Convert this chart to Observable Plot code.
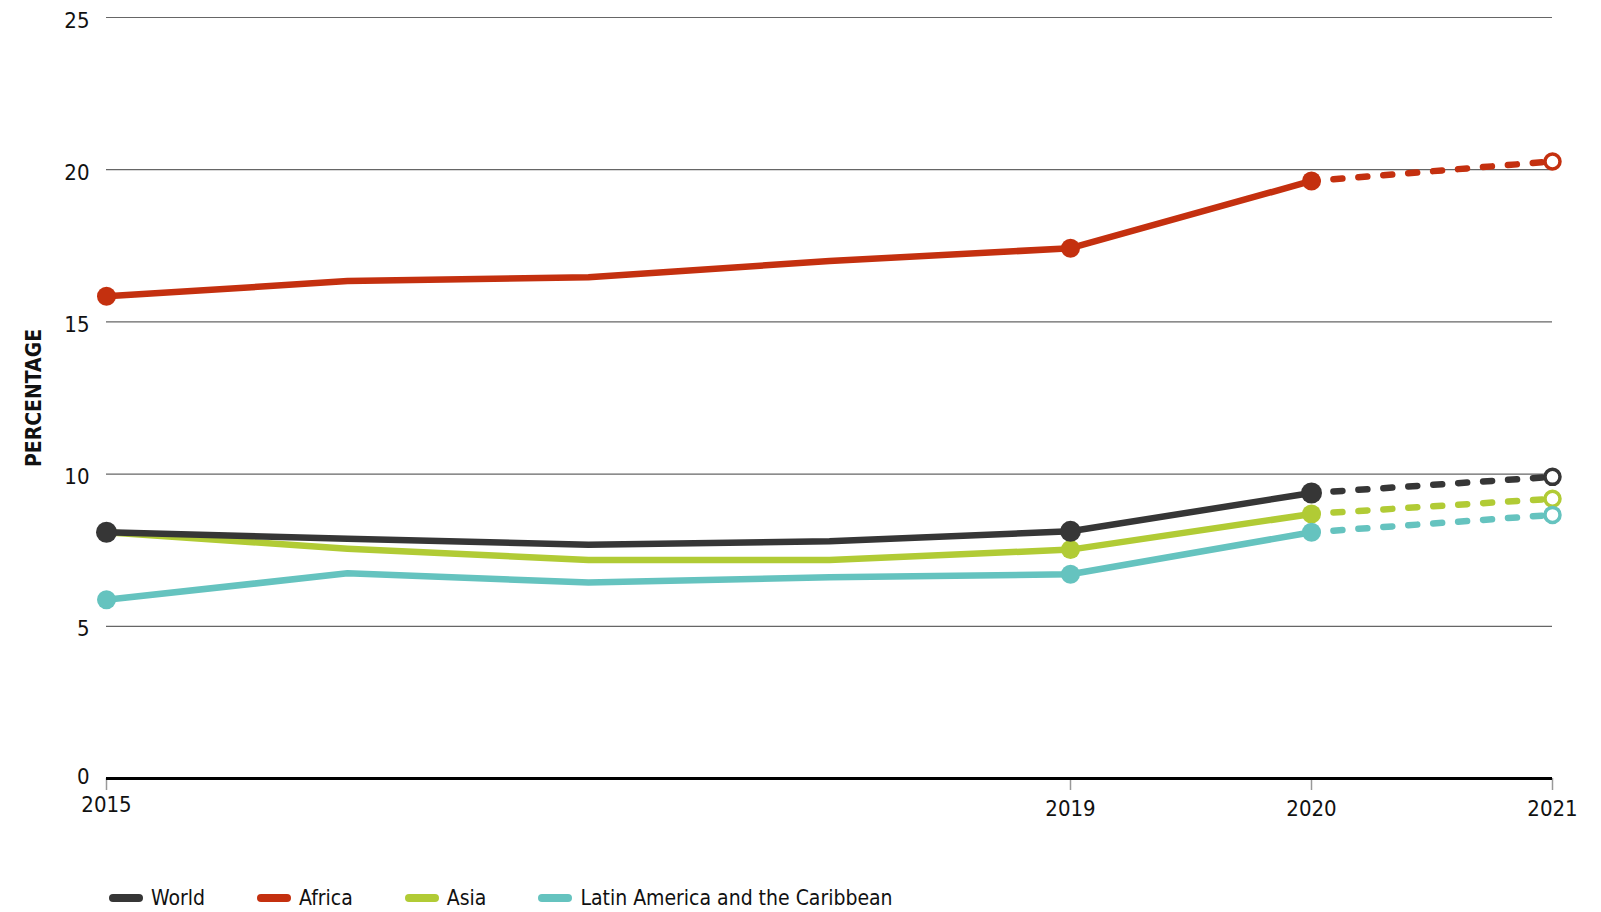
<!DOCTYPE html>
<html>
<head>
<meta charset="utf-8">
<script src="https://cdn.jsdelivr.net/npm/d3@7"></script>
<script src="https://cdn.jsdelivr.net/npm/@observablehq/plot@0.6"></script>
<style>
  html, body { margin: 0; padding: 0; background: #fff; }
  body { width: 1601px; height: 912px; overflow: hidden; font-family: "DejaVu Sans", sans-serif; font-stretch: condensed; }
  #chart svg { display: block; font-stretch: condensed; }
  #chart svg text { font-stretch: condensed; }
  #chart g[aria-label="y-axis label"] text { font-weight: bold; font-size: 21px; fill: #111; }
  #legend { display: flex; align-items: center; height: 28px; padding-left: 109px; font-size: 21px; color: #111; font-stretch: condensed; }
  .item { display: flex; align-items: center; margin-right: 52px; }
  .sw { width: 34px; height: 8px; border-radius: 4px; margin-right: 8px; }
</style>
</head>
<body>
<div id="chart"></div>
<div id="legend"></div>
<script>
const years = [2015, 2016, 2017, 2018, 2019, 2020, 2021];
const seriesNames = ["World", "Africa", "Asia", "Latin America and the Caribbean"];
const colors = ["#363636", "#c4300f", "#b1cb35", "#65c3bf"];
const world  = [8.09, 7.88, 7.68, 7.79, 8.12, 9.38, 9.91];
const africa = [15.84, 16.34, 16.47, 17.0, 17.42, 19.63, 20.27];
const asia   = [8.09, 7.55, 7.18, 7.18, 7.52, 8.69, 9.19];
const lac    = [5.87, 6.74, 6.44, 6.61, 6.71, 8.09, 8.66];
const markerYears = [2015, 2019, 2020];
const projectionYears = [2020, 2021];
const yTicks = [5, 10, 15, 20, 25];

const valuesBySeries = {"World": world, "Africa": africa, "Asia": asia, "Latin America and the Caribbean": lac};
const rows = [];
for (const s of seriesNames) years.forEach((y, i) => rows.push({series: s, year: y, value: valuesBySeries[s][i]}));
const drawOrder = ["Asia", "Latin America and the Caribbean", "World", "Africa"];
const sorted = drawOrder.flatMap(s => rows.filter(r => r.series === s));
const solid = sorted.filter(r => r.year <= 2020);
const dashed = sorted.filter(r => projectionYears.includes(r.year));
const filledDots = sorted.filter(r => markerYears.includes(r.year) && r.series !== "World");
const worldDots = sorted.filter(r => markerYears.includes(r.year) && r.series === "World");
const hollowDots = sorted.filter(r => r.year === 2021);
const font = "'DejaVu Sans', sans-serif";

const chart = Plot.plot({
  width: 1601,
  height: 884,
  marginLeft: 106,
  marginRight: 49,
  marginTop: 17,
  marginBottom: 106,
  style: {fontFamily: font, fontSize: "22px", color: "#111", background: "#fff"},
  x: {domain: [2015, 2021], label: null},
  y: {domain: [0, 25], label: null},
  color: {domain: seriesNames, range: colors},
  marks: [
    Plot.gridY([5, 10, 15, 20, 25], {stroke: "#666", strokeOpacity: 1, strokeWidth: 1.2}),
    Plot.axisY(yTicks, {tickSize: 0, tickPadding: 17, dy: 3, fontSize: 22, label: "PERCENTAGE", labelAnchor: "center", labelOffset: 80, labelArrow: "none"}),
    Plot.axisY([0], {tickSize: 0, tickPadding: 17, dy: -2, fontSize: 22, label: null}),
    Plot.axisX([2019, 2020, 2021], {tickSize: 12, stroke: "#999", strokeWidth: 1.5, tickPadding: 10, tickFormat: d => String(d), fontSize: 22, label: null}),
    Plot.axisX([2015], {tickSize: 12, stroke: "#999", strokeWidth: 1.5, tickPadding: 6, tickFormat: d => String(d), fontSize: 22, label: null}),
    Plot.ruleY([0], {stroke: "#000", strokeWidth: 3}),
    Plot.line(solid, {x: "year", y: "value", z: "series", stroke: "series", strokeWidth: 6.5, strokeLinejoin: "round", strokeLinecap: "round"}),
    Plot.line(dashed, {x: "year", y: "value", z: "series", stroke: "series", strokeWidth: 6.5, strokeDasharray: "9,16", strokeDashoffset: -22, strokeLinecap: "round"}),
    Plot.dot(filledDots, {x: "year", y: "value", fill: "series", r: 9.5}),
    Plot.dot(worldDots, {x: "year", y: "value", fill: "series", r: 10.5}),
    Plot.dot(hollowDots, {x: "year", y: "value", stroke: "series", fill: "#fff", strokeWidth: 3.5, r: 7.5})
  ]
});
document.getElementById("chart").appendChild(chart);

const legend = document.getElementById("legend");
seriesNames.forEach((s, i) => {
  const item = document.createElement("div");
  item.className = "item";
  const sw = document.createElement("span");
  sw.className = "sw";
  sw.style.background = colors[i];
  const t = document.createElement("span");
  t.textContent = s;
  item.appendChild(sw);
  item.appendChild(t);
  legend.appendChild(item);
});
</script>
</body>
</html>
